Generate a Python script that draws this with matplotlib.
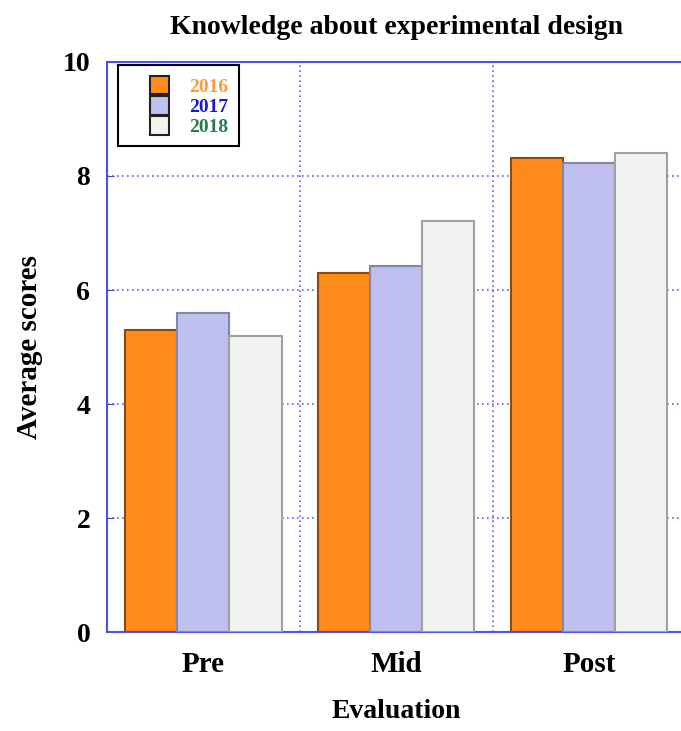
import numpy as np
import matplotlib.pyplot as plt
from matplotlib.patches import Patch, Rectangle
from matplotlib.legend_handler import HandlerPatch

categories = ["Pre", "Mid", "Post"]
years = ["2016", "2017", "2018"]
scores_2016 = [5.3, 6.3, 8.32]
scores_2017 = [5.6, 6.42, 8.23]
scores_2018 = [5.2, 7.21, 8.4]

fill_colors = ["#ff8c1a", "#bfbff0", "#f0f3ef"]
edge_colors = ["#8a4a10", "#8585a8", "#a0a0a0"]
text_colors = ["#ff9a3a", "#1818d0", "#2a7a50"]

plt.rcParams["font.family"] = ["Liberation Serif", "DejaVu Serif"]
plt.rcParams["font.weight"] = "bold"


def right_patch(legend, orig_handle, xdescent, ydescent, width, height, fontsize):
    # draw the swatch only at the right end of the handle area
    w = 1.0 * fontsize
    return Rectangle((width - w - xdescent, -ydescent), w, height)


fig = plt.figure(figsize=(6.81, 7.31), dpi=100)
ax = fig.add_axes([0.157, 0.1354, 0.85, 0.7798])

x = np.arange(len(categories))
width = 0.27
series = [scores_2016, scores_2017, scores_2018]
for i, vals in enumerate(series):
    ax.bar(x + (i - 1) * width, vals, width, color=fill_colors[i],
           edgecolor=edge_colors[i], linewidth=1.5, zorder=3)

ax.set_xlim(-0.5, 2.5)
ax.set_ylim(0, 10)
ax.set_xticks([-0.5, 0.5, 1.5, 2.5], minor=False)
ax.set_xticklabels([])
ax.set_xticks(x, minor=True)
ax.set_xticklabels(categories, minor=True, fontsize=21, fontweight="bold")
ax.tick_params(axis="x", which="both", length=0, pad=14)
ax.set_yticks([0, 2, 4, 6, 8, 10])
ax.tick_params(axis="y", direction="in", length=5, color="#4040e0",
               labelsize=20, pad=12)
ax.grid(True, which="major", color="#6060e8", linestyle=(0, (1, 2)),
        linewidth=1.2, zorder=0)

for side in ["left", "bottom", "top", "right"]:
    ax.spines[side].set_color("#5050e8")
    ax.spines[side].set_linestyle((0, (1, 1)))
    ax.spines[side].set_linewidth(1.5)

ax.set_title("Knowledge about experimental design", fontsize=20,
             fontweight="bold", pad=20)
ax.set_xlabel("Evaluation", fontsize=20, fontweight="bold", labelpad=15)
ax.set_ylabel("Average scores", fontsize=21, fontweight="bold", labelpad=14)

handles = [Patch(facecolor=fill_colors[i], edgecolor="#222222", linewidth=1.5)
           for i in range(3)]
leg = ax.legend(handles, years, loc="upper left", bbox_to_anchor=(0.019, 0.995),
                fontsize=14, handlelength=2.1, handleheight=1.12,
                labelspacing=0.0, handletextpad=1.0, borderpad=0.55,
                borderaxespad=0.0, fancybox=False, framealpha=1,
                edgecolor="black",
                handler_map={Patch: HandlerPatch(patch_func=right_patch)})
leg.get_frame().set_linewidth(1.5)
for t, c in zip(leg.get_texts(), text_colors):
    t.set_color(c)
    t.set_fontweight("bold")
leg.set_zorder(5)

fig.savefig("out.png", dpi=100)
